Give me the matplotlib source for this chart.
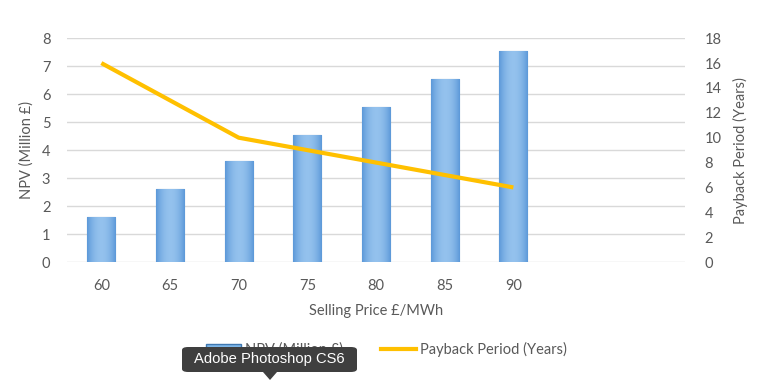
import matplotlib
matplotlib.use("Agg")
import matplotlib.pyplot as plt
import numpy as np
from matplotlib.patches import Patch, FancyBboxPatch, Polygon
from matplotlib.lines import Line2D

plt.rcParams['font.family'] = ['Lato', 'DejaVu Sans']

# data
prices = ["60", "65", "70", "75", "80", "85", "90"]
npv = [1.6, 2.6, 3.6, 4.55, 5.55, 6.55, 7.55]
payback = [16.0, 13.0, 10.0, 9.0, 8.0, 7.0, 6.0]
n_slots = 9   # the axis has room for two empty categories after 90

TXT = "#595959"
GRID = "#D9D9D9"

fig = plt.figure(figsize=(7.73, 3.82), dpi=100)
ax = fig.add_axes([0.0867, 0.314, 0.7995, 0.586])
ax2 = ax.twinx()

x = np.arange(len(prices))
bars = ax.bar(x, npv, width=0.41, color="#7DB6E8", edgecolor="#3F78B0",
              linewidth=0.8, zorder=3)

# horizontal shading inside each bar
grad = np.linspace(0, 1, 64)
shade = 1 - (2 * grad - 1) ** 2
img = np.dstack([0.36 + 0.22 * shade, 0.60 + 0.16 * shade, 0.85 + 0.08 * shade])
img = img.reshape(1, -1, 3)
for b in bars:
    x0, w, h = b.get_x(), b.get_width(), b.get_height()
    im = ax.imshow(img, extent=[x0, x0 + w, 0, h], aspect="auto", zorder=3.5,
                   interpolation="bilinear")
    im.set_clip_path(b)

ax2.plot(x, payback, color="#FFC000", linewidth=3.0, solid_capstyle="butt", zorder=4)

ax.set_xlim(-0.5, n_slots - 0.5)
ax.set_ylim(0, 8)
ax2.set_ylim(0, 18)
ax.set_yticks(range(0, 9))
ax2.set_yticks(range(0, 19, 2))
ax.set_xticks(x)
ax.set_xticklabels(prices)

ax.grid(axis="y", color=GRID, linewidth=1.0, zorder=0)
ax.set_axisbelow(True)
for a in (ax, ax2):
    for s in a.spines.values():
        s.set_visible(False)
    a.tick_params(length=0, labelsize=10.5, colors=TXT)
ax.tick_params(axis="y", pad=12)
ax2.tick_params(axis="y", pad=14)
ax.tick_params(axis="x", pad=12)

ax.set_ylabel("NPV (Million £)", color=TXT, fontsize=10.5, labelpad=6)
ax2.set_ylabel("Payback Period (Years)", color=TXT, fontsize=10.5, labelpad=8)
ax.set_xlabel("Selling Price £/MWh", color=TXT, fontsize=10.5, labelpad=8)

handles = [Patch(facecolor="#7DB6E8", edgecolor="#3F78B0"),
           Line2D([], [], color="#FFC000", linewidth=3.0)]
fig.legend(handles, ["NPV (Million £)", "Payback Period (Years)"], ncol=2,
           loc="center", bbox_to_anchor=(0.5, 0.085), frameon=False,
           fontsize=10.5, labelcolor=TXT, handlelength=2.4, columnspacing=2.6,
           handletextpad=0.25)

# tooltip covering part of the legend
box = FancyBboxPatch((182 / 773, 1 - 372 / 382), 175 / 773, 25 / 382,
                     boxstyle="round,pad=0,rounding_size=0.008",
                     transform=fig.transFigure, facecolor="#3F3F3F",
                     edgecolor="none", zorder=10)
fig.add_artist(box)
tri = Polygon([(263 / 773, 1 - 372 / 382), (277 / 773, 1 - 372 / 382),
               (270 / 773, 1 - 380 / 382)], closed=True,
              transform=fig.transFigure, facecolor="#3F3F3F", edgecolor="none",
              zorder=10)
fig.add_artist(tri)
fig.text(269.5 / 773, 1 - 359.5 / 382, "Adobe Photoshop CS6", color="white",
         fontsize=10.6, ha="center", va="center", zorder=11,
         family=["Liberation Sans", "DejaVu Sans"])

fig.savefig("out.png", dpi=100, facecolor="white")
